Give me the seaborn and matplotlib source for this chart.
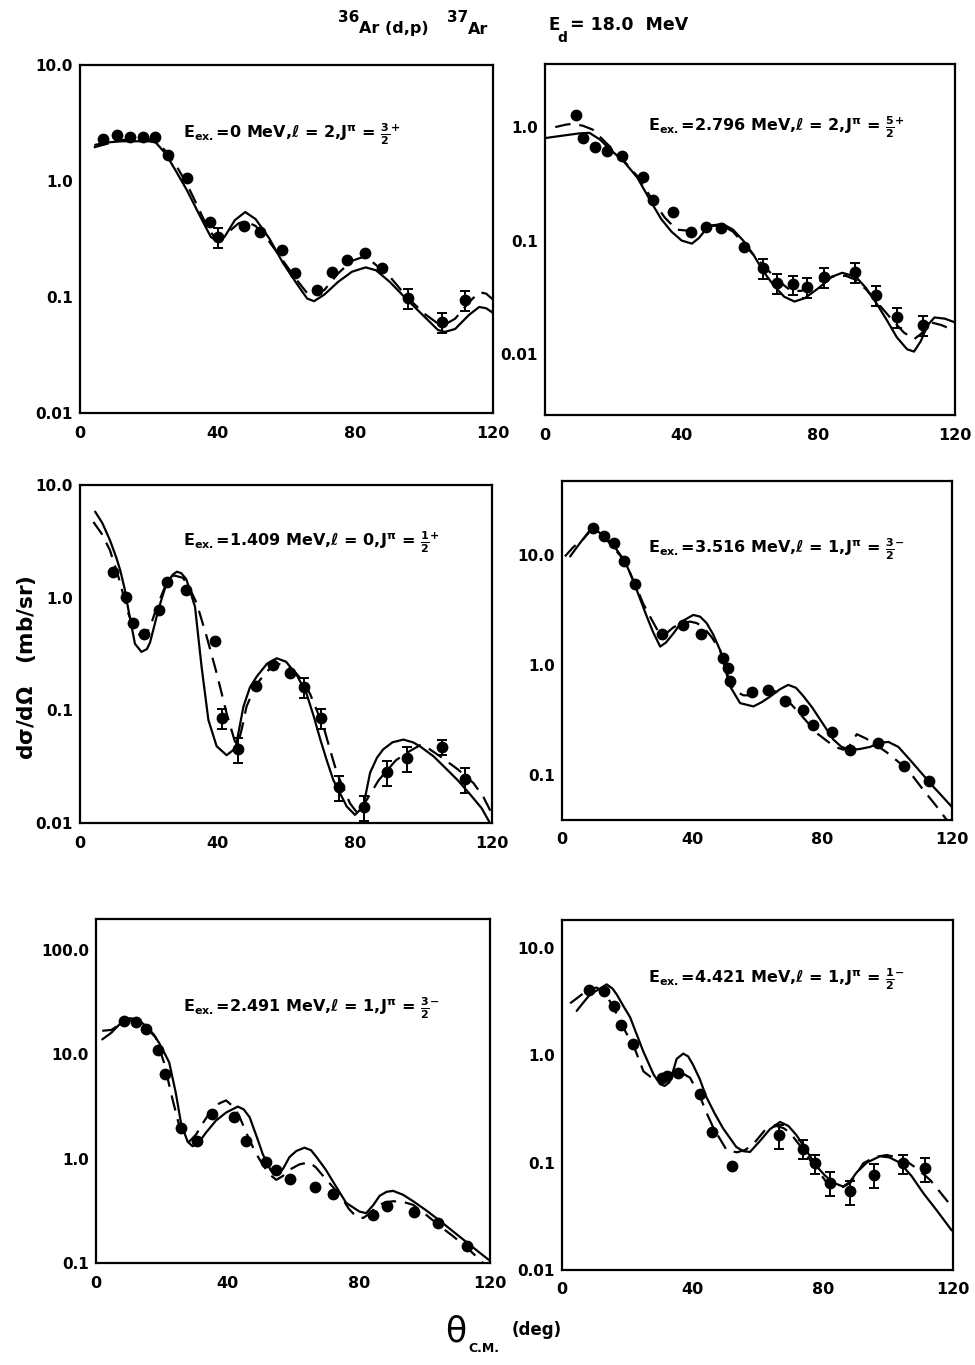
"""
plot.py
=======
36Ar(d,p)37Ar angular distributions at Ed = 18.0 MeV, six excited states.
Filled circles are data, solid and dashed lines are the two DWBA fits.
"""

import matplotlib
matplotlib.use("Agg")
import matplotlib.pyplot as plt
import numpy as np
import pandas as pd
import seaborn as sns
from matplotlib.ticker import FixedLocator, FixedFormatter, NullLocator

# ------------------------------------------------------------------
# Data (theta in deg, cross section in mb/sr)
# ------------------------------------------------------------------
# E_ex = 0 MeV
p1_x = [6.7, 10.7, 14.5, 18.3, 21.8, 25.6, 31.2, 37.8, 40.2, 47.7, 52.3, 58.7,
        62.5, 68.9, 73.2, 77.6, 82.8, 87.8, 95.3, 105.2, 111.9]
p1_y = [2.3, 2.5, 2.4, 2.4, 2.4, 1.67, 1.06, 0.44, 0.33, 0.41, 0.36, 0.254,
        0.161, 0.115, 0.164, 0.21, 0.24, 0.178, 0.098, 0.061, 0.094]
p1_err = [0, 0, 0, 0, 0, 0, 0, 0, 0.2, 0, 0, 0, 0, 0, 0, 0, 0, 0, 0.2, 0.2, 0.2]
p1_solid_x = [4.4, 8, 12, 16, 20, 22, 25, 28, 31, 35, 38, 40, 42, 45, 48, 51, 55, 59,
              63, 66, 68, 71, 75, 79, 83, 86, 90, 95, 100, 104, 106, 109, 113, 116, 118, 120]
p1_solid_y = [2.05, 2.15, 2.2, 2.2, 2.2, 2.15, 1.7, 1.2, 0.84, 0.49, 0.33, 0.30, 0.33,
              0.46, 0.54, 0.47, 0.32, 0.196, 0.13, 0.097, 0.092, 0.105, 0.135, 0.165,
              0.18, 0.17, 0.135, 0.095, 0.068, 0.052, 0.05, 0.053, 0.07, 0.082, 0.08, 0.073]
p1_dash_x = [4, 8, 12, 16, 20, 22, 25, 28, 31, 34, 37, 39, 41, 43, 46, 48, 51, 55, 59,
             63, 66, 68, 71, 75, 79, 82, 85, 90, 95, 100, 104, 106, 109, 113, 116, 118, 120]
p1_dash_y = [1.95, 2.1, 2.25, 2.3, 2.3, 2.2, 1.8, 1.35, 0.95, 0.62, 0.40, 0.33, 0.32,
             0.36, 0.43, 0.45, 0.41, 0.30, 0.205, 0.14, 0.108, 0.103, 0.115, 0.16, 0.205,
             0.22, 0.2, 0.15, 0.1, 0.072, 0.059, 0.058, 0.065, 0.09, 0.11, 0.107, 0.095]

# E_ex = 2.796 MeV
p2_x = [9.1, 11.2, 14.6, 18.2, 22.6, 28.6, 31.7, 37.4, 42.7, 47.0, 51.5, 58.1,
        63.9, 68.0, 72.5, 76.6, 81.8, 90.6, 96.8, 103.0, 110.7]
p2_y = [1.28, 0.80, 0.67, 0.62, 0.556, 0.365, 0.227, 0.177, 0.12, 0.132, 0.128, 0.088,
        0.057, 0.042, 0.041, 0.039, 0.048, 0.053, 0.033, 0.021, 0.018]
p2_err = [0, 0, 0, 0, 0, 0, 0, 0, 0, 0, 0, 0, 0.2, 0.2, 0.2, 0.2, 0.2, 0.2, 0.2, 0.2, 0.2]
p2_solid_x = [0, 5, 10, 13, 16, 20, 23, 27, 31, 34, 37, 40, 43, 45, 48, 52, 55, 58, 61,
              64, 67, 70, 73, 76, 80, 84, 87, 91, 94, 97, 100, 103, 106, 108, 110, 112,
              114, 117, 120]
p2_solid_y = [0.8, 0.84, 0.88, 0.89, 0.78, 0.6, 0.5, 0.36, 0.22, 0.155, 0.12, 0.1, 0.094,
              0.105, 0.135, 0.14, 0.125, 0.1, 0.075, 0.053, 0.04, 0.032, 0.029, 0.031,
              0.038, 0.048, 0.052, 0.048, 0.038, 0.028, 0.02, 0.014, 0.011, 0.0105, 0.013,
              0.018, 0.021, 0.0205, 0.019]
p2_dash_x = [3, 6, 8, 11, 14, 18, 22, 27, 31, 35, 38.5, 42, 45, 49, 52, 55, 58, 61, 64,
             68, 72, 75, 79, 84, 88, 91, 94, 97, 101, 105, 108, 110, 113, 116, 118, 120]
p2_dash_y = [1.0, 1.05, 1.07, 1.03, 0.95, 0.72, 0.55, 0.37, 0.24, 0.16, 0.125, 0.122,
             0.128, 0.135, 0.135, 0.12, 0.095, 0.075, 0.06, 0.045, 0.036, 0.036, 0.042,
             0.048, 0.049, 0.045, 0.037, 0.029, 0.021, 0.0155, 0.0135, 0.015, 0.019,
             0.018, 0.017, 0.0155]

# E_ex = 1.409 MeV
p3_x = [9.7, 13.4, 15.5, 18.6, 23.1, 25.2, 31.0, 39.3, 41.5, 46.1, 51.3, 56.1, 61.2,
        65.3, 70.2, 75.5, 82.8, 89.3, 95.3, 105.3, 112.1]
p3_y = [1.70, 1.02, 0.60, 0.48, 0.78, 1.39, 1.17, 0.41, 0.086, 0.045, 0.164, 0.253,
        0.213, 0.162, 0.086, 0.021, 0.014, 0.0286, 0.0376, 0.0476, 0.0245]
p3_err = [0, 0, 0, 0, 0, 0, 0, 0, 0.2, 0.25, 0, 0, 0, 0.2, 0.2, 0.25, 0.25, 0.25,
          0.25, 0.15, 0.25]
p3_solid_x = [4.4, 6.5, 8.7, 10.5, 11.7, 13, 14.1, 16, 17.9, 19.5, 20.4, 22, 22.8, 25.2,
              27, 28.2, 29.5, 31, 33.5, 35.4, 37.4, 39.8, 42.7, 45.3, 47.6, 49.5, 51.5,
              54.5, 57.3, 60, 63, 66, 68, 70, 72, 73.8, 77.7, 80.1, 82.5, 84.5, 86.5,
              88.3, 91, 94.2, 97, 99, 103, 106.8, 110, 113.6, 117, 119.4]
p3_solid_y = [5.8, 4.6, 3.25, 2.3, 1.76, 1.2, 0.78, 0.39, 0.33, 0.35, 0.40, 0.62, 0.78,
              1.34, 1.6, 1.70, 1.65, 1.45, 0.83, 0.245, 0.082, 0.048, 0.040, 0.046,
              0.108, 0.16, 0.20, 0.26, 0.29, 0.27, 0.21, 0.14, 0.09, 0.055, 0.035, 0.024,
              0.014, 0.0118, 0.014, 0.028, 0.038, 0.045, 0.052, 0.055, 0.052, 0.048,
              0.039, 0.030, 0.024, 0.018, 0.0135, 0.010]
p3_dash_x = [3.9, 6.3, 8.7, 11.2, 14.1, 16.5, 19, 21, 22.5, 25, 27.2, 30, 32, 34, 36.9,
             39.8, 42.7, 45.1, 46, 47.2, 48.5, 50.5, 52.4, 55, 57.3, 60, 62, 65, 67,
             70.9, 72.8, 74.8, 78.6, 81, 84.5, 87, 89.3, 92, 95.2, 99, 101, 104.9, 110,
             114.6, 117.5, 119.9]
p3_dash_y = [4.7, 3.7, 2.65, 1.53, 0.72, 0.48, 0.45, 0.62, 0.85, 1.3, 1.58, 1.5, 1.2,
             0.89, 0.45, 0.214, 0.094, 0.053, 0.05, 0.07, 0.108, 0.15, 0.186, 0.23, 0.26,
             0.25, 0.23, 0.18, 0.14, 0.072, 0.045, 0.028, 0.015, 0.012, 0.018, 0.024,
             0.029, 0.036, 0.042, 0.049, 0.047, 0.039, 0.03, 0.0226, 0.017, 0.0122]

# E_ex = 3.516 MeV
p4_x = [9.4, 13.0, 16.0, 19.2, 22.5, 30.9, 37.1, 42.8, 49.6, 51.0, 51.7, 58.4, 63.5,
        68.6, 74.3, 77.1, 83.0, 88.6, 97.1, 105.3, 113.0]
p4_y = [17.5, 14.9, 12.8, 8.9, 5.4, 1.91, 2.31, 1.91, 1.15, 0.93, 0.71, 0.57, 0.59,
        0.47, 0.39, 0.285, 0.248, 0.169, 0.194, 0.121, 0.089]
p4_err = [0] * 21
p4_solid_x = [2.5, 5.5, 9.1, 11.5, 13.8, 16.5, 19.2, 21, 23, 26.1, 28, 30.2, 32, 34.3,
              37, 40.4, 42.5, 44.5, 46.5, 48.7, 51.7, 54.8, 58.9, 61.5, 64, 67, 69.6,
              72, 74.3, 77, 79.4, 83.5, 86, 88.6, 91.5, 94.8, 97.5, 100.4, 103.5, 107.1,
              110.5, 114.3, 117, 119.9]
p4_solid_y = [9.7, 12.8, 17.5, 16, 14, 11.5, 8.9, 6.8, 4.8, 2.75, 2.0, 1.47, 1.6, 1.94,
              2.5, 2.85, 2.75, 2.4, 1.9, 1.35, 0.64, 0.45, 0.42, 0.46, 0.515, 0.6, 0.66,
              0.62, 0.52, 0.41, 0.32, 0.21, 0.18, 0.17, 0.172, 0.18, 0.195, 0.20, 0.18,
              0.137, 0.105, 0.078, 0.064, 0.0515]
p4_dash_x = [0.9, 3.5, 6.6, 9.4, 12, 15, 19.2, 23, 25, 27.1, 30.2, 32.2, 34.3, 37, 39.4,
             41.5, 43.5, 46, 48.7, 51.7, 53.8, 55.8, 59.9, 63.5, 66, 68.2, 70.5, 73.2,
             76, 78.4, 82.5, 84.5, 86.6, 88.5, 90.7, 93.5, 95.8, 100, 104, 108, 111.2,
             115, 118.4]
p4_dash_y = [9.7, 11.8, 14, 17.5, 15.5, 12.5, 8.9, 5.0, 3.6, 2.75, 1.87, 1.95, 2.2, 2.4,
             2.48, 2.4, 2.2, 1.8, 1.35, 0.68, 0.57, 0.53, 0.53, 0.60, 0.57, 0.52, 0.44,
             0.36, 0.29, 0.24, 0.194, 0.178, 0.17, 0.185, 0.235, 0.215, 0.195, 0.16,
             0.128, 0.097, 0.073, 0.053, 0.039]

# E_ex = 2.491 MeV
p5_x = [8.5, 12.1, 15.2, 19.0, 21.1, 25.9, 30.7, 35.2, 42.1, 45.7, 51.8, 54.7, 59.1,
        66.8, 72.2, 84.4, 88.5, 96.8, 104.2, 112.9]
p5_y = [20.5, 20.1, 17.3, 11.0, 6.4, 1.94, 1.47, 2.69, 2.52, 1.47, 0.92, 0.77, 0.64,
        0.53, 0.46, 0.29, 0.35, 0.31, 0.24, 0.147]
p5_err = [0] * 20
p5_solid_x = [1.9, 4.7, 7, 9.1, 10.6, 13, 15.2, 17.5, 19.2, 21, 22.3, 24.3, 25.9, 27.9,
              29.4, 31, 33.5, 36.5, 39.6, 43.2, 45, 46.8, 49, 50.8, 53.3, 55.4, 57,
              58.9, 61, 63.5, 65.5, 67.2, 70, 72.2, 76.2, 80.3, 82.3, 84.5, 86.4, 88.5,
              90.5, 93.5, 96.6, 100.5, 104.7, 108.8, 112.9, 116.5, 120]
p5_solid_y = [13.8, 16, 19, 21.7, 22, 21, 18.6, 15.5, 12.8, 10, 8.3, 4.25, 2.17, 1.45,
              1.31, 1.38, 1.77, 2.3, 2.75, 3.14, 2.95, 2.48, 1.6, 1.1, 0.76, 0.70, 0.8,
              1.03, 1.18, 1.27, 1.2, 1.03, 0.78, 0.60, 0.376, 0.31, 0.30, 0.36, 0.44,
              0.48, 0.49, 0.45, 0.39, 0.32, 0.254, 0.2, 0.158, 0.128, 0.105]
p5_dash_x = [1.9, 4.7, 7, 9.1, 10.9, 13, 15.2, 18.2, 20.7, 23.3, 25.4, 28.4, 30.5, 32.5,
             34.5, 36.5, 39.6, 41.5, 43.5, 46, 48.5, 51, 53, 54.9, 56.9, 58.9, 62, 65,
             67, 69.2, 72, 74.5, 77, 79.4, 81.4, 83.5, 85.5, 88, 90.5, 93.5, 96.6, 100.5,
             104.7, 108.8, 112.9, 115.5, 118]
p5_dash_y = [16.7, 17, 19, 20.5, 21, 20, 18, 14.4, 8.3, 3.7, 2.03, 1.45, 1.7, 2.17, 2.7,
             3.25, 3.6, 3.2, 2.6, 1.7, 1.15, 0.85, 0.7, 0.625, 0.68, 0.78, 0.88, 0.92,
             0.82, 0.68, 0.54, 0.44, 0.33, 0.275, 0.27, 0.3, 0.35, 0.38, 0.39, 0.385,
             0.36, 0.29, 0.226, 0.18, 0.141, 0.118, 0.099]

# E_ex = 4.421 MeV
p6_x = [8.3, 13.0, 16.0, 18.0, 21.7, 30.6, 32.1, 35.7, 42.4, 45.9, 52.3, 66.5, 74.1,
        77.7, 82.3, 88.3, 95.9, 104.8, 111.5]
p6_y = [4.1, 3.97, 2.88, 1.93, 1.27, 0.62, 0.64, 0.68, 0.44, 0.193, 0.094, 0.18,
        0.135, 0.099, 0.065, 0.054, 0.077, 0.099, 0.089]
p6_err = [0, 0, 0, 0, 0, 0, 0, 0, 0, 0, 0, 0.25, 0.2, 0.2, 0.25, 0.25, 0.25, 0.2, 0.25]
p6_solid_x = [4.5, 6.5, 8.6, 11.7, 13.7, 15.5, 16.8, 18.8, 20.9, 23, 25, 28.1, 30.1,
              31.5, 32.9, 34, 35.2, 37.2, 38.7, 40.2, 42.3, 44.3, 46.8, 49.4, 53.5, 55.7,
              57.7, 60.8, 63.8, 66.9, 69.5, 72, 75, 78.2, 80.7, 83.3, 86.3, 88.3, 90.4,
              93.5, 97.6, 100.5, 103.7, 107.3, 110.9, 115, 119.6]
p6_solid_y = [2.6, 3.1, 3.7, 4.2, 4.6, 4.2, 3.7, 2.9, 2.27, 1.55, 1.08, 0.665, 0.54,
              0.52, 0.56, 0.7, 0.93, 1.04, 0.98, 0.82, 0.6, 0.41, 0.29, 0.21, 0.14, 0.128,
              0.126, 0.16, 0.205, 0.24, 0.22, 0.18, 0.13, 0.092, 0.076, 0.065, 0.06,
              0.066, 0.081, 0.1, 0.115, 0.112, 0.1, 0.075, 0.052, 0.036, 0.0234]
p6_dash_x = [2.5, 4.5, 6.6, 8.6, 10.6, 12.2, 13.7, 15.8, 17.8, 19.8, 21.9, 25, 28.1,
             30.1, 32.1, 34.7, 37, 39.3, 42.4, 44.4, 46.5, 50.6, 53.7, 56.3, 58.7, 62.8,
             65.9, 68, 70, 73, 76.1, 78.7, 81.3, 84.4, 86.5, 88.5, 90.5, 92.5, 96, 99.7,
             104.8, 109, 113, 116.3, 119.6]
p6_dash_y = [3.06, 3.4, 3.8, 4.1, 4.3, 4.0, 3.6, 2.8, 2.1, 1.6, 1.25, 0.71, 0.6, 0.62,
             0.66, 0.70, 0.68, 0.62, 0.41, 0.29, 0.21, 0.13, 0.125, 0.132, 0.149, 0.21,
             0.22, 0.21, 0.19, 0.145, 0.106, 0.083, 0.065, 0.058, 0.06, 0.065, 0.08,
             0.099, 0.113, 0.118, 0.108, 0.088, 0.069, 0.052, 0.039]

# axis ticks and labels per panel
p1_yticks, p1_ylabels = [10, 1, 0.1, 0.01], ["10.0", "1.0", "0.1", "0.01"]
p2_yticks, p2_ylabels = [1, 0.1, 0.01], ["1.0", "0.1", "0.01"]
p3_yticks, p3_ylabels = [10, 1, 0.1, 0.01], ["10.0", "1.0", "0.1", "0.01"]
p4_yticks, p4_ylabels = [10, 1, 0.1], ["10.0", "1.0", "0.1"]
p5_yticks, p5_ylabels = [100, 10, 1, 0.1], ["100.0", "10.0", "1.0", "0.1"]
p6_yticks, p6_ylabels = [10, 1, 0.1, 0.01], ["10.0", "1.0", "0.1", "0.01"]
xticks = [0, 40, 80, 120]

p1_label = r"E$_{ex.}$=0 MeV,$\ell$ = 2,J$^{\pi}$ = $\frac{3}{2}^{+}$"
p2_label = r"E$_{ex.}$=2.796 MeV,$\ell$ = 2,J$^{\pi}$ = $\frac{5}{2}^{+}$"
p3_label = r"E$_{ex.}$=1.409 MeV,$\ell$ = 0,J$^{\pi}$ = $\frac{1}{2}^{+}$"
p4_label = r"E$_{ex.}$=3.516 MeV,$\ell$ = 1,J$^{\pi}$ = $\frac{3}{2}^{-}$"
p5_label = r"E$_{ex.}$=2.491 MeV,$\ell$ = 1,J$^{\pi}$ = $\frac{3}{2}^{-}$"
p6_label = r"E$_{ex.}$=4.421 MeV,$\ell$ = 1,J$^{\pi}$ = $\frac{1}{2}^{-}$"

sns.set_theme(style="white")
plt.rcParams["font.family"] = ["DejaVu Sans"]
plt.rcParams["font.weight"] = "bold"
plt.rcParams["mathtext.fontset"] = "dejavusans"
plt.rcParams["mathtext.default"] = "bf"
plt.rcParams["text.color"] = "black"
plt.rcParams["xtick.color"] = "black"
plt.rcParams["ytick.color"] = "black"
plt.rcParams["axes.edgecolor"] = "black"


def draw_panel(ax, px, py, perr, sx, sy, dx, dy, ylim, yticks, ylabels, label, lpos):
    pts = pd.DataFrame({"theta": px, "xs": py, "err": perr})
    solid = pd.DataFrame({"theta": sx, "xs": sy})
    dash = pd.DataFrame({"theta": dx, "xs": dy})

    sns.lineplot(data=solid, x="theta", y="xs", ax=ax, color="black", lw=1.6,
                 estimator=None, sort=False)
    sns.lineplot(data=dash, x="theta", y="xs", ax=ax, color="black", lw=1.6,
                 estimator=None, sort=False, linestyle=(0, (7, 4)))
    bars = pts[pts["err"] > 0]
    ax.errorbar(bars["theta"], bars["xs"], yerr=bars["xs"] * bars["err"], fmt="none",
                ecolor="black", elinewidth=1.4, capsize=3.5, capthick=1.4)
    sns.scatterplot(data=pts, x="theta", y="xs", ax=ax, color="black", s=72,
                    edgecolor="black", linewidth=0, zorder=5)

    ax.set_yscale("log")
    ax.set_xlim(0, 120)
    ax.set_ylim(*ylim)
    ax.xaxis.set_major_locator(FixedLocator(xticks))
    ax.xaxis.set_major_formatter(FixedFormatter([str(t) for t in xticks]))
    ax.yaxis.set_major_locator(FixedLocator(yticks))
    ax.yaxis.set_major_formatter(FixedFormatter(ylabels))
    ax.yaxis.set_minor_locator(NullLocator())
    ax.tick_params(direction="in", length=8, width=1.3, labelsize=11, pad=5,
                   color="black", labelcolor="black")
    ax.tick_params(axis="x", labelsize=11.5, pad=9)
    for sp in ax.spines.values():
        sp.set_linewidth(1.6)
        sp.set_color("black")
    ax.set_xlabel("")
    ax.set_ylabel("")
    ax.text(lpos[0], lpos[1], label, transform=ax.transAxes, fontsize=11.5,
            ha="left", va="center", color="black")


fig = plt.figure(figsize=(9.75, 13.65), dpi=100)
W, H = 975.0, 1365.0


def rect(x0, y0, x1, y1):
    return [x0 / W, 1 - y1 / H, (x1 - x0) / W, (y1 - y0) / H]


def ftext(x, y, s, **kw):
    fig.text(x / W, 1 - y / H, s, color="black", **kw)


ax1 = fig.add_axes(rect(80, 65, 493, 413))
ax2 = fig.add_axes(rect(545, 64, 955, 415))
ax3 = fig.add_axes(rect(80, 485, 492, 823))
ax4 = fig.add_axes(rect(562, 481, 952, 820))
ax5 = fig.add_axes(rect(96, 919, 490, 1263))
ax6 = fig.add_axes(rect(562, 920, 953, 1270))

draw_panel(ax1, p1_x, p1_y, p1_err, p1_solid_x, p1_solid_y, p1_dash_x, p1_dash_y,
           (0.01, 10), p1_yticks, p1_ylabels, p1_label, (0.25, 0.80))
draw_panel(ax2, p2_x, p2_y, p2_err, p2_solid_x, p2_solid_y, p2_dash_x, p2_dash_y,
           (0.0029, 3.6), p2_yticks, p2_ylabels, p2_label, (0.25, 0.82))
draw_panel(ax3, p3_x, p3_y, p3_err, p3_solid_x, p3_solid_y, p3_dash_x, p3_dash_y,
           (0.01, 10), p3_yticks, p3_ylabels, p3_label, (0.25, 0.83))
draw_panel(ax4, p4_x, p4_y, p4_err, p4_solid_x, p4_solid_y, p4_dash_x, p4_dash_y,
           (0.039, 47), p4_yticks, p4_ylabels, p4_label, (0.22, 0.80))
draw_panel(ax5, p5_x, p5_y, p5_err, p5_solid_x, p5_solid_y, p5_dash_x, p5_dash_y,
           (0.1, 196), p5_yticks, p5_ylabels, p5_label, (0.22, 0.74))
draw_panel(ax6, p6_x, p6_y, p6_err, p6_solid_x, p6_solid_y, p6_dash_x, p6_dash_y,
           (0.01, 18.3), p6_yticks, p6_ylabels, p6_label, (0.22, 0.83))

# header: 36Ar(d,p)37Ar   Ed = 18.0 MeV
ftext(338, 18, "36", fontsize=11, ha="left", va="center")
ftext(359, 28, "Ar (d,p)", fontsize=11.5, ha="left", va="center")
ftext(447, 18, "37", fontsize=11, ha="left", va="center")
ftext(468, 29, "Ar", fontsize=11.5, ha="left", va="center")
ftext(548, 25, "E", fontsize=12, ha="left", va="center")
ftext(557, 38, "d", fontsize=10, ha="left", va="center")
ftext(570, 25, "= 18.0  MeV", fontsize=12.5, ha="left", va="center")

# axis titles
ftext(27, 668, r"d$\sigma$/d$\Omega$   (mb/sr)", fontsize=15.5, rotation=90,
      ha="center", va="center")
ftext(456, 1332, "\u03b8", fontsize=25, ha="center", va="center",
      fontweight="normal")
ftext(468, 1348, "C.M.", fontsize=9, ha="left", va="center")
ftext(512, 1330, "(deg)", fontsize=12, ha="left", va="center")

fig.savefig("out.png", dpi=100)
plt.close(fig)
